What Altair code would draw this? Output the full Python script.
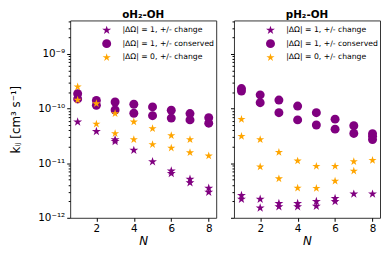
import altair as alt
import pandas as pd

SERIES = ["|ΔΩ| = 1, +/- change", "|ΔΩ| = 1, +/- conserved", "|ΔΩ| = 0, +/- change"]
COLORS = ["#800080", "#800080", "#FFA500"]
STAR = ("M0,-1L0.2245,-0.309L0.9511,-0.309L0.3633,0.118L0.5878,0.809L0,0.382"
        "L-0.5878,0.809L-0.3633,0.118L-0.9511,-0.309L-0.2245,-0.309Z")
SHAPES = [STAR, "circle", STAR]

# oH2-OH panel
o_star_N = [1, 2, 3, 3, 4, 5, 6, 6, 7, 7, 8, 8]
o_star_k = [5.7e-11, 3.8e-11, 2.7e-11, 2.5e-11, 1.72e-11, 1.06e-11, 7.2e-12, 6.5e-12, 5.1e-12, 4.4e-12, 3.5e-12, 2.95e-12]
o_circ_N = [1, 1, 2, 2, 3, 3, 4, 4, 5, 5, 6, 6, 7, 7, 8, 8]
o_circ_k = [1.87e-10, 1.5e-10, 1.41e-10, 1.15e-10, 1.32e-10, 9.4e-11, 1.2e-10, 8.2e-11, 1.07e-10, 7.4e-11, 9.3e-11, 6.7e-11, 8.1e-11, 6.2e-11, 6.8e-11, 5.4e-11]
o_orng_N = [1, 1, 2, 2, 3, 3, 4, 4, 5, 5, 6, 6, 7, 7, 8]
o_orng_k = [2.5e-10, 1.43e-10, 1.23e-10, 5.2e-11, 8.1e-11, 3.5e-11, 5.7e-11, 2.7e-11, 4.3e-11, 2.2e-11, 3.2e-11, 1.9e-11, 2.7e-11, 1.56e-11, 1.36e-11]

# pH2-OH panel
p_star_N = [1, 1, 2, 2, 3, 3, 4, 4, 5, 5, 6, 6, 7, 8]
p_star_k = [2.57e-12, 2.2e-12, 2.2e-12, 1.52e-12, 1.84e-12, 1.6e-12, 1.83e-12, 1.6e-12, 2.0e-12, 1.63e-12, 2.26e-12, 2.0e-12, 2.72e-12, 2.72e-12]
p_circ_N = [1, 1, 2, 2, 3, 3, 4, 4, 5, 5, 6, 6, 7, 7, 8, 8, 8]
p_circ_k = [2.32e-10, 2.09e-10, 1.78e-10, 1.28e-10, 1.43e-10, 8.4e-11, 1.11e-10, 6.2e-11, 8.4e-11, 5.0e-11, 6.4e-11, 4.2e-11, 4.85e-11, 3.5e-11, 3.47e-11, 3.1e-11, 2.7e-11]
p_orng_N = [1, 1, 2, 2, 3, 3, 4, 4, 5, 5, 6, 6, 7, 7, 8]
p_orng_k = [6.35e-11, 3.1e-11, 2.7e-11, 8.6e-12, 1.58e-11, 5.2e-12, 1.1e-11, 3.5e-12, 8.8e-12, 3.47e-12, 8.8e-12, 4.7e-12, 1.07e-11, 7.2e-12, 1.13e-11]

X_TICKS = [2, 4, 6, 8]
MAJOR = [1e-12, 1e-11, 1e-10, 1e-9]
MINOR = [m * d for d in [1e-12, 1e-11, 1e-10] for m in range(2, 10)] + [2e-9, 3e-9, 4e-9]


def frame(groups):
    rows = []
    for order, (s, ns, ks) in enumerate(groups):
        for n, k in zip(ns, ks):
            rows.append({"N": n, "k": k, "series": s, "ord": order})
    return pd.DataFrame(rows)


df_o = frame([(SERIES[0], o_star_N, o_star_k), (SERIES[1], o_circ_N, o_circ_k), (SERIES[2], o_orng_N, o_orng_k)])
df_p = frame([(SERIES[0], p_star_N, p_star_k), (SERIES[1], p_circ_N, p_circ_k), (SERIES[2], p_orng_N, p_orng_k)])

label_expr = ("datum.value == 1e-9 ? '10⁻⁹' : datum.value == 1e-10 ? '10⁻¹⁰' : "
              "datum.value == 1e-11 ? '10⁻¹¹' : datum.value == 1e-12 ? '10⁻¹²' : ''")
major_test = "datum.value == 1e-9 || datum.value == 1e-10 || datum.value == 1e-11 || datum.value == 1e-12"


def panel(df, title, show_y):
    common = dict(
        values=MAJOR + MINOR,
        tickSize={"condition": {"test": major_test, "value": 3.5}, "value": 2},
        grid=False, domain=False, tickColor="#000",
        labelFontSize=10.5, labelPadding=2, labelFont="DejaVu Sans",
    )
    if show_y:
        yaxis = alt.Axis(labelExpr=label_expr, title="kᵢⱼ [cm³ s⁻¹]", titleFontSize=12,
                         titleFontWeight="normal", titlePadding=16, titleFont="DejaVu Sans",
                         labelColor="#000", titleColor="#000", **common)
    else:
        yaxis = alt.Axis(labels=False, title=None, **common)
    return alt.Chart(df).mark_point(filled=True, opacity=1).encode(
        x=alt.X("N:Q", scale=alt.Scale(domain=[0.6, 8.4], nice=False, zero=False),
                axis=alt.Axis(values=X_TICKS, title="N", grid=False, domain=False, tickSize=3.5,
                              tickColor="#000", labelColor="#000", titleColor="#000",
                              labelFontSize=10.5, labelPadding=2,
                              titleFontSize=12, titleFontStyle="italic", titleFontWeight="normal",
                              titlePadding=2, labelFont="DejaVu Sans", titleFont="DejaVu Sans")),
        y=alt.Y("k:Q", scale=alt.Scale(type="log", domain=[1e-12, 4.1e-9], nice=False), axis=yaxis),
        color=alt.Color("series:N", scale=alt.Scale(domain=SERIES, range=COLORS),
                        legend=alt.Legend(title=None, orient="none", legendX=32, legendY=5,
                                          symbolSize=170, labelFontSize=7.8, labelFont="DejaVu Sans",
                                          labelColor="#000", labelOffset=11, rowPadding=4.5,
                                          padding=0, symbolStrokeWidth=0)),
        shape=alt.Shape("series:N", scale=alt.Scale(domain=SERIES, range=SHAPES)),
        size=alt.Size("series:N", scale=alt.Scale(domain=SERIES, range=[90, 75, 90]), legend=None),
        order=alt.Order("ord:Q"),
    ).properties(
        width=148, height=200,
        title=alt.TitleParams(title, fontSize=10.5, fontWeight="bold", font="DejaVu Sans",
                              offset=0, color="#000"),
    )


left = panel(df_o, "oH₂-OH", True)
right = panel(df_p, "pH₂-OH", False)

chart = alt.hconcat(left, right, spacing=12).resolve_scale(
    color="independent", shape="independent", size="independent"
).resolve_legend(color="independent", shape="independent").properties(
    padding={"left": 0, "top": 0, "right": 0, "bottom": 0}
).configure_view(stroke="#333", strokeWidth=1)

chart.save("out.html", embed_options={"renderer": "svg", "actions": False})
